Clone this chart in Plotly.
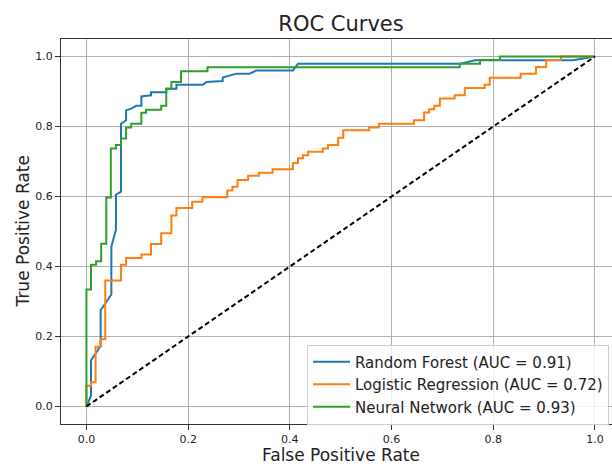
import plotly.graph_objects as go

# ---- data ----
rf_fpr = [0, 0.009, 0.009, 0.028, 0.028, 0.049, 0.049, 0.058, 0.058, 0.068, 0.068, 0.078, 0.078,
          0.088, 0.098, 0.108, 0.108, 0.127, 0.127, 0.157, 0.157, 0.177, 0.177, 0.229, 0.236,
          0.268, 0.268, 0.295, 0.321, 0.334, 0.406, 0.416, 0.734, 0.764, 0.957, 1.0]
rf_tpr = [0, 0.031, 0.132, 0.173, 0.275, 0.32, 0.457, 0.505, 0.605, 0.614, 0.808, 0.818, 0.846,
          0.851, 0.859, 0.859, 0.886, 0.889, 0.898, 0.898, 0.908, 0.908, 0.919, 0.919, 0.927,
          0.93, 0.94, 0.951, 0.951, 0.96, 0.96, 0.979, 0.979, 0.989, 0.989, 1.0]

lr_fpr = [0, 0, 0.009, 0.009, 0.018, 0.018, 0.028, 0.028, 0.037, 0.037, 0.068, 0.068, 0.078,
          0.078, 0.108, 0.108, 0.127, 0.127, 0.147, 0.147, 0.167, 0.167, 0.177, 0.177, 0.208,
          0.208, 0.228, 0.228, 0.277, 0.277, 0.287, 0.287, 0.297, 0.297, 0.318, 0.318, 0.339,
          0.339, 0.366, 0.366, 0.406, 0.406, 0.416, 0.416, 0.426, 0.426, 0.436, 0.436, 0.465,
          0.465, 0.475, 0.475, 0.495, 0.495, 0.505, 0.505, 0.556, 0.556, 0.575, 0.575, 0.644,
          0.644, 0.664, 0.664, 0.674, 0.674, 0.684, 0.684, 0.695, 0.695, 0.724, 0.724, 0.744,
          0.744, 0.783, 0.783, 0.793, 0.793, 0.854, 0.854, 0.884, 0.884, 0.904, 0.904, 0.933,
          0.933, 1.0]
lr_tpr = [0, 0.059, 0.059, 0.069, 0.069, 0.171, 0.171, 0.192, 0.192, 0.36, 0.36, 0.405, 0.405,
          0.424, 0.424, 0.434, 0.434, 0.464, 0.464, 0.495, 0.495, 0.546, 0.546, 0.567, 0.567,
          0.585, 0.585, 0.598, 0.598, 0.617, 0.617, 0.628, 0.628, 0.647, 0.647, 0.659, 0.659,
          0.668, 0.668, 0.678, 0.678, 0.696, 0.696, 0.709, 0.709, 0.718, 0.718, 0.728, 0.728,
          0.737, 0.737, 0.747, 0.747, 0.768, 0.768, 0.789, 0.789, 0.797, 0.797, 0.808, 0.808,
          0.818, 0.818, 0.84, 0.84, 0.849, 0.849, 0.859, 0.859, 0.88, 0.88, 0.889, 0.889,
          0.91, 0.91, 0.919, 0.919, 0.939, 0.939, 0.951, 0.951, 0.97, 0.97, 0.99, 0.99,
          1.0, 1.0]

nn_fpr = [0, 0, 0.009, 0.009, 0.019, 0.019, 0.029, 0.029, 0.039, 0.039, 0.048, 0.048, 0.058,
          0.058, 0.068, 0.068, 0.078, 0.078, 0.088, 0.088, 0.108, 0.108, 0.117, 0.117, 0.147,
          0.147, 0.157, 0.157, 0.167, 0.167, 0.186, 0.186, 0.238, 0.238, 0.734, 0.734, 0.774,
          0.774, 0.813, 0.813, 1.0]
nn_tpr = [0, 0.334, 0.334, 0.405, 0.405, 0.415, 0.415, 0.465, 0.465, 0.597, 0.597, 0.737, 0.737,
          0.747, 0.747, 0.766, 0.766, 0.797, 0.797, 0.808, 0.808, 0.839, 0.839, 0.848, 0.848,
          0.859, 0.859, 0.908, 0.908, 0.927, 0.927, 0.958, 0.958, 0.969, 0.969, 0.979, 0.979,
          0.99, 0.99, 1.0, 1.0]

chance_x = [0, 1]
chance_y = [0, 1]

names = ["Random Forest (AUC = 0.91)", "Logistic Regression (AUC = 0.72)",
         "Neural Network (AUC = 0.93)"]
colors = ["#1f77b4", "#ff7f0e", "#2ca02c"]

tick_vals = [0.0, 0.2, 0.4, 0.6, 0.8, 1.0]
tick_text = ["0.0", "0.2", "0.4", "0.6", "0.8", "1.0"]

FONT = "DejaVu Sans"

fig = go.Figure()
for xs, ys, nm, c in zip([rf_fpr, lr_fpr, nn_fpr], [rf_tpr, lr_tpr, nn_tpr], names, colors):
    fig.add_trace(go.Scatter(x=xs, y=ys, mode="lines", name=nm,
                             line=dict(color=c, width=2)))
fig.add_trace(go.Scatter(x=chance_x, y=chance_y, mode="lines", showlegend=False,
                         line=dict(color="black", width=2, dash="5px,3px")))

axis_common = dict(
    tickvals=tick_vals, ticktext=tick_text,
    ticks="outside", ticklen=5, tickwidth=1, tickcolor="#333333",
    showgrid=True, gridcolor="#b0b0b0", gridwidth=1,
    showline=True, linecolor="#333333", linewidth=1,
    zeroline=False, automargin=False,
    tickfont=dict(family=FONT, size=11, color="#222222"),
)

# plot area: x 61..612 (551 px), y 39..424 (385 px)
PW, PH = 551.0, 385.0

fig.update_layout(
    width=612, height=464,
    margin=dict(l=61, r=0, t=39, b=40),
    paper_bgcolor="white", plot_bgcolor="white",
    font=dict(family=FONT, color="#222222"),
    title=dict(text="ROC Curves", x=(341) / 612, xanchor="center", y=1 - 24 / 464,
               yanchor="middle", font=dict(family=FONT, size=21, color="#222222")),
    xaxis=dict(range=[-0.05, 1.0335], mirror=True, **axis_common),
    yaxis=dict(range=[-0.05, 1.05], mirror=False, **axis_common),
    legend=dict(x=(307 - 61) / PW, y=(424.5 - 345) / PH, xanchor="left", yanchor="top",
                bgcolor="rgba(255,255,255,0.8)", bordercolor="#cccccc", borderwidth=1,
                font=dict(family=FONT, size=15, color="#222222"),
                itemwidth=37, tracegroupgap=0),
    showlegend=True,
    annotations=[
        dict(text="False Positive Rate", xref="paper", yref="paper",
             x=(341 - 61) / PW, y=-(455 - 424) / PH, xanchor="center", yanchor="middle",
             showarrow=False, font=dict(family=FONT, size=17, color="#222222")),
        dict(text="True Positive Rate", xref="paper", yref="paper", textangle=-90,
             x=-(61 - 22) / PW, y=0.5, xanchor="center", yanchor="middle",
             showarrow=False, font=dict(family=FONT, size=17, color="#222222")),
    ],
)

fig.write_html("out.html")
